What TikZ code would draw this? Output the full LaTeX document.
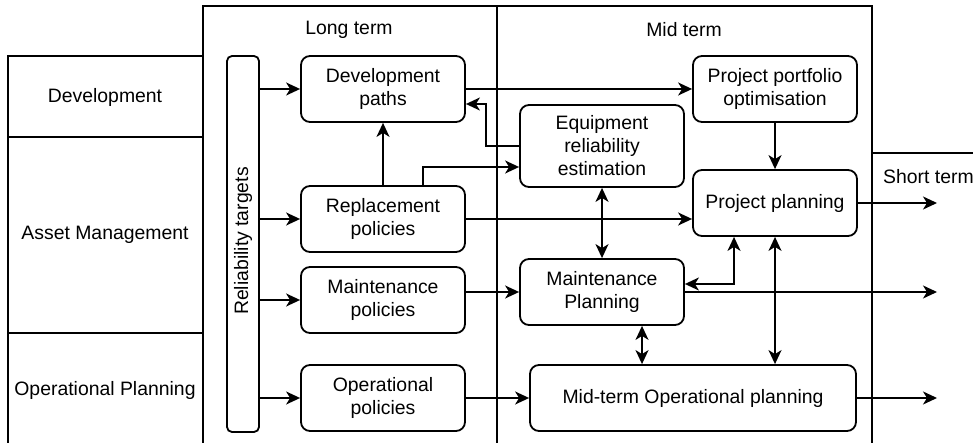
\documentclass[tikz,border=0pt]{standalone}
\usepackage{fontspec}
\setmainfont{Liberation Sans}
\usetikzlibrary{arrows.meta}
\tikzset{
  ln/.style={line width=1.8pt},
  box/.style={ln, draw, rounded corners=9pt, align=center, inner sep=0pt,
    font=\fontsize{19.4}{23}\selectfont},
  lbl/.style={font=\fontsize{19.4}{23}\selectfont, inner sep=0pt},
  arr/.style={ln, -{Stealth[length=14pt,width=13pt,inset=4pt]}},
  darr/.style={ln, {Stealth[length=14pt,width=13pt,inset=4pt]}-{Stealth[length=14pt,width=13pt,inset=4pt]}},
}
\begin{document}
\begin{tikzpicture}[x=1pt,y=-1pt]
\clip (0,0) rectangle (973,443);
% frames
\draw[ln] (8,460) -- (8,56) -- (203,56);
\draw[ln] (8,137) -- (203,137);
\draw[ln] (8,333) -- (203,333);
\draw[ln] (203,460) -- (203,6) -- (872,6) -- (872,460);
\draw[ln] (497,6) -- (497,460);
\draw[ln] (872,153) -- (980,153);
\node[lbl] (lt) at (349,30) {Long term};
\node[lbl] (mt) at (684,30) {Mid term};
\node[lbl, anchor=west] (st) at (883,177) {Short term};
\node[lbl] (rdev) at (105,97) {Development};
\node[lbl] (ram) at (105,235) {Asset Management};
\node[lbl] (rop) at (105,390) {Operational Planning};
% nodes
\node[box, rounded corners=5pt, minimum width=32pt, minimum height=376pt] (rt) at (243,244) {};
\node[lbl, rotate=90] (rtl) at (243,241) {Reliability targets};
\node[box, minimum width=164pt, minimum height=66pt] (dev) at (383,89) {Development\\paths};
\node[box, minimum width=164pt, minimum height=66pt] (rep) at (383,219) {Replacement\\policies};
\node[box, minimum width=164pt, minimum height=66pt] (mpol) at (383,300) {Maintenance\\policies};
\node[box, minimum width=164pt, minimum height=66pt] (opol) at (383,398) {Operational\\policies};
\node[box, minimum width=164pt, minimum height=82pt] (eq) at (602,146) {Equipment\\reliability\\estimation};
\node[box, minimum width=164pt, minimum height=66pt] (ppo) at (775,89) {Project portfolio\\optimisation};
\node[box, minimum width=164pt, minimum height=66pt] (pp) at (775,203) {Project planning};
\node[box, minimum width=164pt, minimum height=66pt] (mp) at (602,292) {Maintenance\\Planning};
\node[box, minimum width=326pt, minimum height=66pt] (mop) at (693,398) {Mid-term Operational planning};
\coordinate (s1) at (937,203);
\coordinate (s2) at (937,292);
\coordinate (s3) at (937,398);
% connectors
\draw[arr] (rt.east |- dev.west) -- (dev.west);
\draw[arr] (rt.east |- rep.west) -- (rep.west);
\draw[arr] (rt.east |- mpol.west) -- (mpol.west);
\draw[arr] (rt.east |- opol.west) -- (opol.west);
\draw[arr] (dev.east) -- (ppo.west);
\draw[arr] (rep.north) -- (dev.south);
\draw[arr] ([xshift=40pt]rep.north) |- ([yshift=-21pt]eq.west);
\draw[arr] (eq.west) -- ++(-33,0) |- ([yshift=-15pt]dev.east);
\draw[arr] (rep.east) -- (rep.east -| pp.west);
\draw[arr] (mpol.east |- mp.west) -- (mp.west);
\draw[arr] (opol.east) -- (mop.west);
\draw[darr] (eq.south) -- (mp.north);
\draw[arr] (ppo.south) -- (pp.north);
\draw[arr] (pp.east) -- (s1);
\draw[arr] (mp.east) -- (s2);
\draw[arr] (mop.east) -- (s3);
\draw[darr] ([yshift=8pt]mp.east) -| ([xshift=-41pt]pp.south);
\draw[darr] ([xshift=40pt]mp.south) -- ([xshift=40pt]mp.south |- mop.north);
\draw[darr] (pp.south) -- (pp.south |- mop.north);
\end{tikzpicture}
\end{document}
